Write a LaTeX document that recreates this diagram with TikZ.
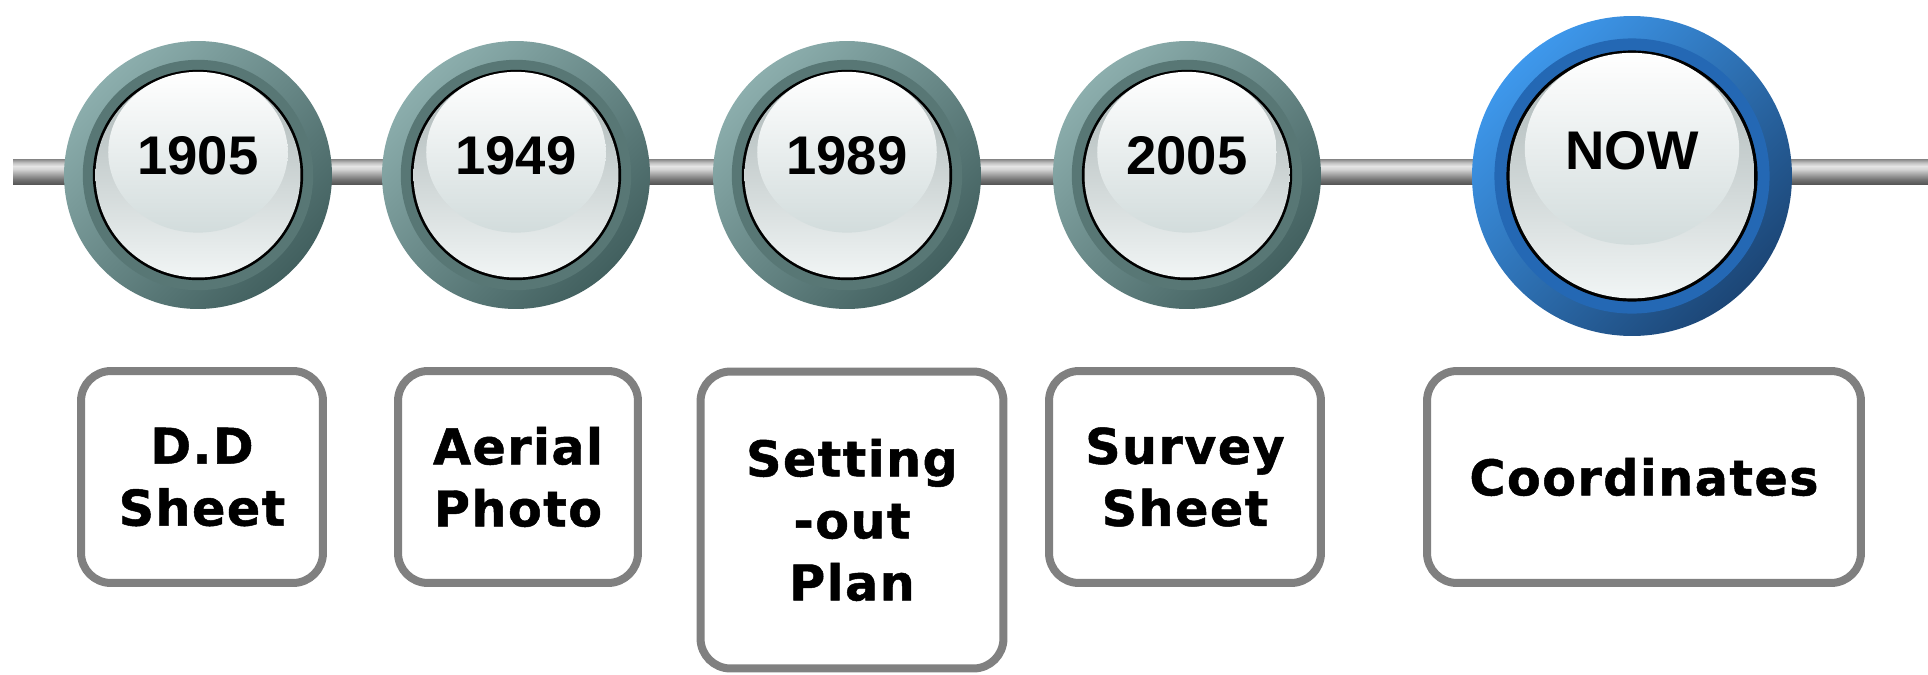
\documentclass[tikz,border=0pt]{standalone}
\usepackage{fontspec}
\setmainfont{Liberation Sans}
\newfontfamily\boxfont{DejaVu Sans}[BoldFeatures={FakeBold=1,LetterSpace=3}]
\usetikzlibrary{positioning, calc}

% rim, band and glass colours of the balls
\definecolor{greyrimA}{HTML}{8CAEAD}
\definecolor{greyrimB}{HTML}{42605F}
\definecolor{greyband}{HTML}{587775}
\definecolor{bluerimA}{HTML}{3E98EC}
\definecolor{bluerimB}{HTML}{1C4676}
\definecolor{blueband}{HTML}{2468B4}
\definecolor{glassTop}{HTML}{A9B4B4}
\definecolor{glassBot}{HTML}{F1F5F5}
\definecolor{glint}{HTML}{D2DCDC}
\definecolor{boxgrey}{HTML}{808080}

% metal look of the time line, bottom to top
\pgfdeclareverticalshading{railshade}{100bp}{
    color(0bp)=(black!66); color(25bp)=(black!66);
    color(34bp)=(black!55); color(45bp)=(black!35);
    color(55bp)=(black!16); color(61bp)=(black!10);
    color(68bp)=(black!25); color(75bp)=(black!48);
    color(100bp)=(black!48)}

\begin{document}
\begin{tikzpicture}[
    x=0.02cm, y=-0.02cm,
    ball/.style 2 args={
        circle, inner sep=0pt, minimum size={2*#1},
        top color=#2rimA, bottom color=#2rimB, shading angle=45,
        path picture={
            \fill[#2band] (path picture bounding box.center) circle ({0.86*#1});
            \fill[black] (path picture bounding box.center) circle ({0.785*#1});
            \shade[top color=glassTop, bottom color=glassBot]
                (path picture bounding box.center) circle ({0.765*#1});
            \shade[top color=white, bottom color=glint]
                ([yshift={0.17*#1}]path picture bounding box.center)
                ellipse ({0.67*#1} and {0.6*#1});
        }
    },
    year/.style={font=\fontsize{31}{36}\selectfont\bfseries, inner sep=0pt},
    event/.style={
        rectangle, rounded corners=0.6cm, draw=boxgrey, line width=0.16cm,
        fill=white, align=center, inner sep=0pt, minimum height=4.24cm,
        font=\boxfont\bfseries\fontsize{28}{35.3}\selectfont
    },
    rail/.style={
        rectangle, inner sep=0pt, minimum height=0.5cm, shading=railshade
    },
]
\useasboundingbox (0,0) rectangle (1928,674);

% Time line
\node[rail, minimum width=38.3cm] (rail) at (970.5,171.5) {};

% Balls
\node[ball={2.68cm}{grey}] (b1905) at (198,175) {};
\node[year] (t1905) at ([yshift=0.38cm]b1905.center) {1905};

\node[ball={2.68cm}{grey}] (b1949) at (516,175) {};
\node[year] (t1949) at ([yshift=0.38cm]b1949.center) {1949};

\node[ball={2.68cm}{grey}] (b1989) at (847,175) {};
\node[year] (t1989) at ([yshift=0.38cm]b1989.center) {1989};

\node[ball={2.68cm}{grey}] (b2005) at (1187,175) {};
\node[year] (t2005) at ([yshift=0.38cm]b2005.center) {2005};

\node[ball={3.2cm}{blue}] (bnow) at (1632,176) {};
\node[year] (tnow) at ([yshift=0.5cm]bnow.center) {NOW};

% Records
\node[event, minimum width=4.84cm] (dd) at (202,477) {D.D\\Sheet};
\node[event, minimum width=4.80cm] (aerial) at (518,477) {Aerial\\Photo};
\node[event, minimum width=6.06cm, minimum height=5.94cm] (setout) at (852,520) {Setting\\-out\\Plan};
\node[event, minimum width=5.44cm] (survey) at (1185,477) {Survey\\Sheet};
\node[event, minimum width=8.68cm] (coords) at (1644,477) {Coordinates};

\end{tikzpicture}
\end{document}
